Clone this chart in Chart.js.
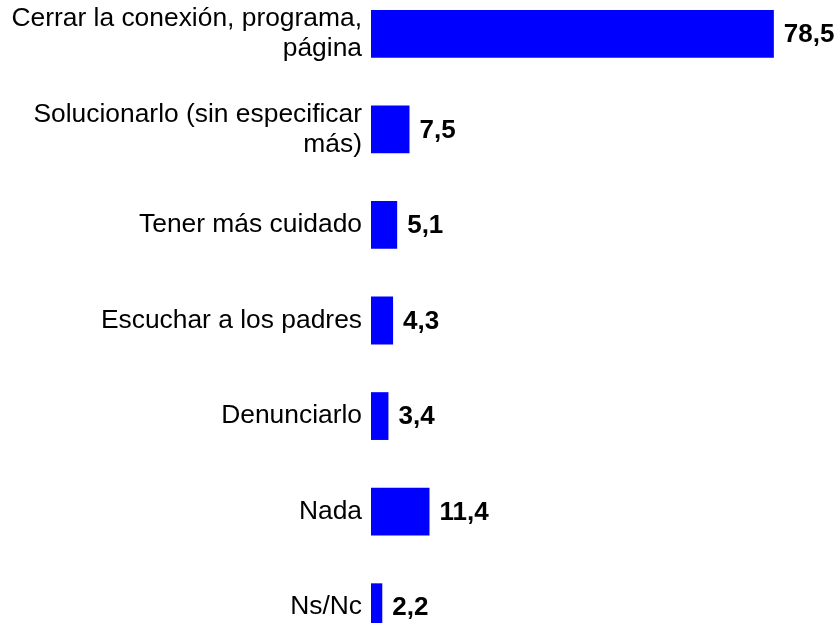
<!DOCTYPE html>
<html>
<head>
<meta charset="utf-8">
<script src="https://cdn.jsdelivr.net/npm/chart.js@4"></script>
<style>
  html, body { margin: 0; padding: 0; background: #fff; overflow: hidden; }
  #wrap { position: relative; width: 838px; height: 669px; margin-top: -14px; }
</style>
</head>
<body>
<div id="wrap"><canvas id="motivosChart"></canvas></div>
<script>
// Respuestas y porcentajes
var categorias = [
    ['Cerrar la conexión, programa,', 'página'],
    ['Solucionarlo (sin especificar', 'más)'],
    'Tener más cuidado',
    'Escuchar a los padres',
    'Denunciarlo',
    'Nada',
    'Ns/Nc'
];
var porcentajes = [78.5, 7.5, 5.1, 4.3, 3.4, 11.4, 2.2];

var fuente = "'Liberation Sans', Arial, sans-serif";

// Etiquetas de valor a la derecha de cada barra, con coma decimal
var etiquetasValor = {
    id: 'etiquetasValor',
    afterDatasetsDraw: function(chart) {
        var ctx = chart.ctx;
        var meta = chart.getDatasetMeta(0);
        ctx.save();
        ctx.font = 'bold 26px ' + fuente;
        ctx.fillStyle = '#000';
        ctx.textAlign = 'left';
        ctx.textBaseline = 'middle';
        meta.data.forEach(function(bar, i) {
            var txt = porcentajes[i].toFixed(1).replace('.', ',');
            ctx.fillText(txt, bar.x + 10, bar.y + 1);
        });
        ctx.restore();
    }
};

var ctx = document.getElementById('motivosChart').getContext('2d');
var motivosChart = new Chart(ctx, {
    type: 'bar',
    data: {
        labels: categorias,
        datasets: [{
            data: porcentajes,
            backgroundColor: '#0000ff',
            borderWidth: 0,
            categoryPercentage: 1,
            barPercentage: 0.5
        }]
    },
    options: {
        indexAxis: 'y',
        responsive: true,
        maintainAspectRatio: false,
        animation: false,
        layout: { padding: 0 },
        plugins: {
            legend: { display: false },
            tooltip: { enabled: false }
        },
        scales: {
            x: {
                display: false,
                min: 0,
                max: 91
            },
            y: {
                grid: { display: false, drawTicks: false },
                border: { display: false },
                ticks: {
                    color: '#000',
                    padding: 9,
                    font: { family: fuente, size: 26.4, lineHeight: 1.136 }
                },
                afterFit: function(scale) {
                    // ancho fijo del eje y sin relleno extra arriba/abajo
                    scale.width = 371;
                    scale.paddingTop = 0;
                    scale.paddingBottom = 0;
                }
            }
        }
    },
    plugins: [etiquetasValor]
});
</script>
</body>
</html>
